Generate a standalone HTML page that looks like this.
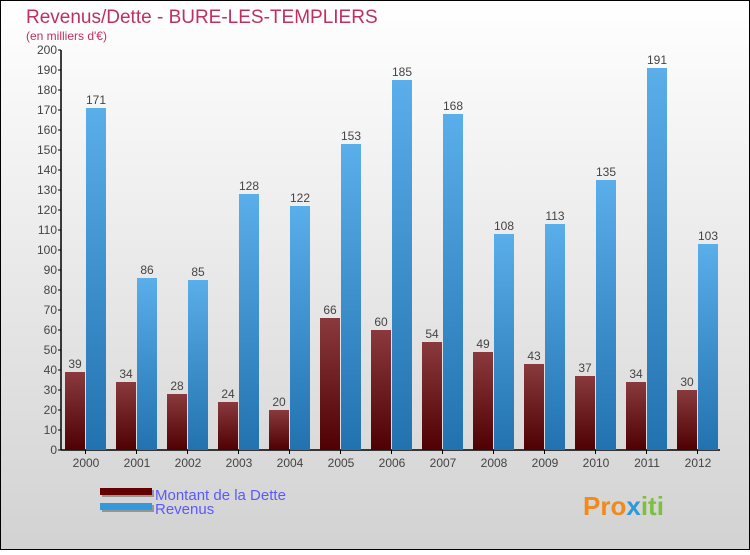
<!DOCTYPE html>
<html><head><meta charset="utf-8"><style>
html,body{margin:0;padding:0}
body{width:750px;height:550px;overflow:hidden;font-family:"Liberation Sans",sans-serif}
</style></head><body>
<svg width="750" height="550" xmlns="http://www.w3.org/2000/svg">
<defs>
<linearGradient id="bg" x1="0" y1="0" x2="0" y2="1"><stop offset="0" stop-color="#ffffff"/><stop offset="1" stop-color="#d2d2d2"/></linearGradient>
<linearGradient id="red" x1="0" y1="0" x2="0" y2="1"><stop offset="0" stop-color="#8a3a3c"/><stop offset="1" stop-color="#4e0002"/></linearGradient>
<linearGradient id="blue" x1="0" y1="0" x2="0" y2="1"><stop offset="0" stop-color="#5aaeea"/><stop offset="1" stop-color="#2272b0"/></linearGradient>
</defs>
<rect x="0.5" y="0.5" width="749" height="549" fill="url(#bg)" stroke="#000"/>
<text x="26" y="23" font-size="19" fill="#c0305e">Revenus/Dette - BURE-LES-TEMPLIERS</text>
<text x="26" y="40" font-size="12" fill="#c0305e">(en milliers d'€)</text>
<g id="axes"></g>
<g id="bars"></g>
<g>
<rect x="102" y="490" width="52" height="7" fill="#555" opacity="0.5"/>
<rect x="100" y="488" width="52" height="7" fill="#640000"/>
<text x="155" y="500" font-size="15" fill="#5a5aff">Montant de la Dette</text>
<rect x="102" y="505" width="52" height="7" fill="#555" opacity="0.5"/>
<rect x="100" y="503" width="52" height="7" fill="#3399dd"/>
<text x="155" y="514" font-size="15" fill="#5a5aff">Revenus</text>
</g>
<text x="583" y="515" font-size="26" font-weight="bold" fill="#f08a1c">Pro<tspan fill="#2a9ad8">x</tspan><tspan fill="#7fbf3f">iti</tspan></text>
</svg>
<script>
const years=["2000","2001","2002","2003","2004","2005","2006","2007","2008","2009","2010","2011","2012"];
const dette=[39,34,28,24,20,66,60,54,49,43,37,34,30];
const revenus=[171,86,85,128,122,153,185,168,108,113,135,191,103];
const yTicks=[0,10,20,30,40,50,60,70,80,90,100,110,120,130,140,150,160,170,180,190,200];
const NS="http://www.w3.org/2000/svg";
const y=v=>450-v*2;
const gx=i=>65+i*51;
function mk(t,a,p){const e=document.createElementNS(NS,t);for(const k in a)e.setAttribute(k,a[k]);p.appendChild(e);return e;}
const ax=document.getElementById('axes'),bg=document.getElementById('bars');
const yl=mk('line',{x1:61,y1:50,x2:61,y2:450,stroke:'#000','stroke-width':1.5},ax);


const xl=mk('line',{x1:61,y1:450,x2:720,y2:450,stroke:'#000','stroke-width':1.5},ax);


yTicks.forEach(v=>{
 mk('line',{x1:58,y1:y(v),x2:61,y2:y(v),stroke:'#000'},ax);
 const t=mk('text',{x:57,y:y(v)+4,'font-size':12,'text-anchor':'end',fill:'#444'},ax);
 t.textContent=v;
 
 
});
years.forEach((yr,i)=>{
 const x=gx(i);
 mk('line',{x1:x+20.5,y1:450,x2:x+20.5,y2:454,stroke:'#000'},ax);
 const t=mk('text',{x:x+21,y:467,'font-size':12,'text-anchor':'middle',fill:'#444'},ax);
 t.textContent=yr;
 
 
 const b1=mk('rect',{x:x,y:y(dette[i]),width:20,height:dette[i]*2,fill:'url(#red)'},bg);
 
 
 const b2=mk('rect',{x:x+21,y:y(revenus[i]),width:20,height:revenus[i]*2,fill:'url(#blue)'},bg);
 
 
 const l1=mk('text',{x:x+10,y:y(dette[i])-4,'font-size':12,'text-anchor':'middle',fill:'#444'},bg);
 l1.textContent=dette[i];
 
 
 const l2=mk('text',{x:x+31,y:y(revenus[i])-4,'font-size':12,'text-anchor':'middle',fill:'#444'},bg);
 l2.textContent=revenus[i];
 
 
});
</script>
</body></html>
